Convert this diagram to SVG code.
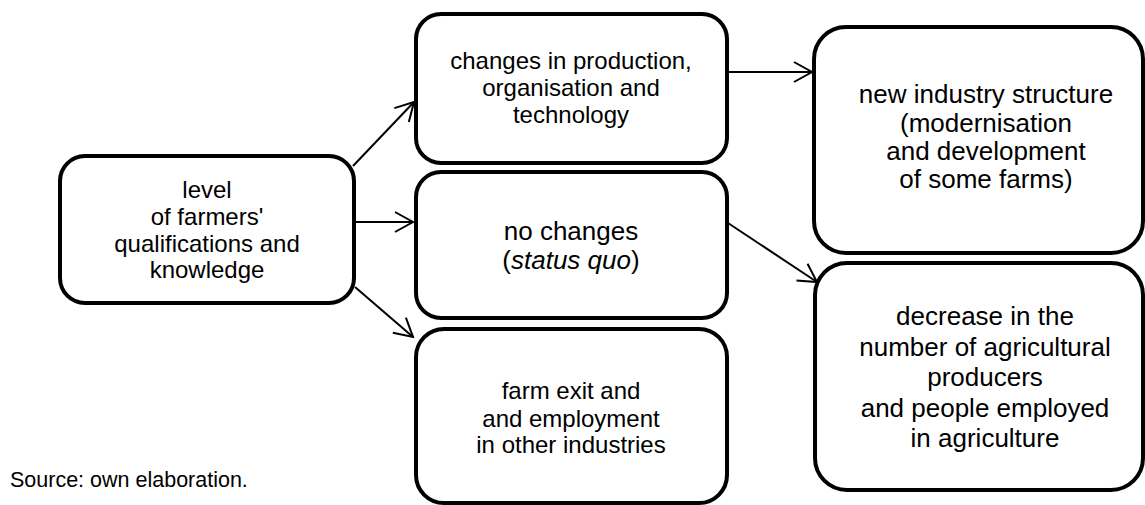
<svg xmlns="http://www.w3.org/2000/svg" width="1145" height="505" viewBox="0 0 1145 505">
  <style>
    .box { fill: #ffffff; stroke: #000000; stroke-width: 4; }
    .t { font-family: "Liberation Sans", Arial, sans-serif; fill: #000000; text-anchor: middle; }
    .s24 { font-size: 24px; }
    .s26 { font-size: 26px; }
    .link { fill: none; stroke: #000000; stroke-width: 2; }
  </style>
  <defs>
    <marker id="open-arrow" markerUnits="userSpaceOnUse" viewBox="-20 -12 24 24" markerWidth="24" markerHeight="24" refX="0" refY="0" orient="auto">
      <path d="M-18,-10 L0,0 L-18,10" fill="none" stroke="#000000" stroke-width="2"/>
    </marker>
  </defs>

  <rect width="1145" height="505" fill="#ffffff"/>

  <!-- connectors -->
  <g id="connectors">
    <line class="link" x1="353" y1="166" x2="414" y2="102" marker-end="url(#open-arrow)"/>
    <line class="link" x1="356" y1="222" x2="413" y2="222" marker-end="url(#open-arrow)"/>
    <line class="link" x1="355" y1="287" x2="413" y2="337" marker-end="url(#open-arrow)"/>
    <line class="link" x1="729" y1="72" x2="812" y2="72" marker-end="url(#open-arrow)"/>
    <line class="link" x1="728" y1="223" x2="817" y2="282" marker-end="url(#open-arrow)"/>
  </g>

  <!-- starting factor -->
  <g id="qualifications">
    <rect class="box" x="60" y="156" width="294" height="147" rx="25"/>
    <text class="t s24" x="207" y="198">level</text>
    <text class="t s24" x="207" y="225">of farmers'</text>
    <text class="t s24" x="207" y="252">qualifications and</text>
    <text class="t s24" x="207" y="278">knowledge</text>
  </g>

  <!-- farmer responses -->
  <g id="changes">
    <rect class="box" x="416" y="14" width="311" height="149" rx="25"/>
    <text class="t s24" x="571" y="69">changes in production,</text>
    <text class="t s24" x="571" y="96">organisation and</text>
    <text class="t s24" x="571" y="123">technology</text>
  </g>

  <g id="no-changes">
    <rect class="box" x="416" y="172" width="311" height="146" rx="25"/>
    <text class="t s26" x="571" y="240">no changes</text>
    <text class="t s26" x="571" y="269">(<tspan font-style="italic">status quo</tspan>)</text>
  </g>

  <g id="farm-exit">
    <rect class="box" x="416" y="329" width="311" height="174" rx="28"/>
    <text class="t s24" x="571" y="399">farm exit and</text>
    <text class="t s24" x="571" y="427">and employment</text>
    <text class="t s24" x="571" y="453">in other industries</text>
  </g>

  <!-- outcomes -->
  <g id="new-structure">
    <rect class="box" x="814" y="27" width="329" height="226" rx="32"/>
    <text class="t s26" x="986" y="103">new industry structure</text>
    <text class="t s26" x="986" y="132">(modernisation</text>
    <text class="t s26" x="986" y="160">and development</text>
    <text class="t s26" x="986" y="188">of some farms)</text>
  </g>

  <g id="decrease">
    <rect class="box" x="815" y="263" width="328" height="227" rx="32"/>
    <text class="t s26" x="985" y="325">decrease in the</text>
    <text class="t s26" x="985" y="356">number of agricultural</text>
    <text class="t s26" x="985" y="386">producers</text>
    <text class="t s26" x="985" y="417">and people employed</text>
    <text class="t s26" x="985" y="447">in agriculture</text>
  </g>

  <text id="source" x="10" y="487" font-family="Liberation Sans, Arial, sans-serif" font-size="21.5" fill="#000000">Source: own elaboration.</text>
</svg>
